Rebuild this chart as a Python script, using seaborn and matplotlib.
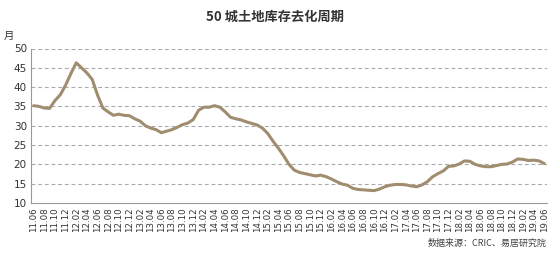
import numpy as np
import pandas as pd
import matplotlib
matplotlib.use("Agg")
import matplotlib.pyplot as plt
import seaborn as sns

# ---- data ----
years = ["11", "12", "13", "14", "15", "16", "17", "18", "19"]
months = [f"{y}.{m:02d}" for y in years for m in range(1, 13)]
months = months[months.index("11.06"):months.index("19.06") + 1]

cycle = [35.2, 35.0, 34.6, 34.5, 36.5, 38.0, 40.5, 43.5, 46.3, 45.0,
         43.7, 42.0, 38.0, 34.6, 33.6, 32.7, 33.0, 32.7, 32.6, 31.8,
         31.2, 30.0, 29.4, 29.0, 28.2, 28.6, 29.0, 29.6, 30.3, 30.7,
         31.6, 34.0, 34.8, 34.8, 35.2, 34.8, 33.6, 32.2, 31.8, 31.5,
         31.0, 30.6, 30.2, 29.4, 28.0, 26.0, 24.2, 22.2, 20.0, 18.5,
         17.9, 17.6, 17.3, 17.0, 17.2, 16.8, 16.2, 15.5, 14.9, 14.6,
         13.8, 13.5, 13.4, 13.3, 13.2, 13.6, 14.2, 14.6, 14.8, 14.8,
         14.7, 14.4, 14.2, 14.7, 15.5, 16.8, 17.6, 18.3, 19.5, 19.6,
         20.1, 20.9, 20.8, 20.0, 19.6, 19.4, 19.4, 19.7, 20.0, 20.1,
         20.6, 21.4, 21.3, 21.0, 21.1, 20.9, 20.2]

yticks = [10, 15, 20, 25, 30, 35, 40, 45, 50]
title = "50 城土地库存去化周期"
unit = "月"
source = "数据来源：CRIC、易居研究院"

df = pd.DataFrame({"idx": np.arange(len(months)), "month": months, "cycle": cycle})

sns.set_theme(style="white")
plt.rcParams["font.family"] = ["Noto Sans CJK SC", "DejaVu Sans"]

fig = plt.figure(figsize=(5.56, 2.56), dpi=100)
ax = fig.add_axes([31 / 556, 1 - 203 / 256, (547 - 31) / 556, (203 - 48.5) / 256])

sns.lineplot(data=df, x="idx", y="cycle", ax=ax, color="#a08d70", linewidth=2.2,
             solid_joinstyle="round", solid_capstyle="round")

ax.set_xlim(-0.5, len(months) - 0.5)
ax.set_ylim(10, 50)
ax.set_yticks(yticks)
ax.set_yticklabels([str(v) for v in yticks], fontsize=7.5, color="#333333",
                   family=["DejaVu Sans"])
ax.set_xticks(np.arange(0, len(months), 2))
ax.set_xticklabels(months[::2], rotation=90, fontsize=6.2, color="#333333",
                   family=["DejaVu Sans"])
ax.set_xticks(np.arange(-0.5, len(months), 1), minor=True)
ax.tick_params(axis="x", which="major", length=0, pad=3)
ax.tick_params(axis="x", which="minor", length=2.5, width=0.6, color="#999999",
               direction="out")
ax.tick_params(axis="y", length=0, pad=3)

for v in yticks[1:]:
    ax.axhline(v, color="#aaaaaa", linewidth=0.8, linestyle=(0, (3.5, 2.5)), zorder=0)

for s in ["top", "right"]:
    ax.spines[s].set_visible(False)
for s in ["left", "bottom"]:
    ax.spines[s].set_color("#999999")
    ax.spines[s].set_linewidth(0.8)

ax.set_xlabel("")
ax.set_ylabel("")

fig.text(0.495, 1 - 17 / 256, title, ha="center", va="center", fontsize=9.5,
         fontweight="bold", color="#333333")
fig.text(8.5 / 556, 1 - 36 / 256, unit, ha="center", va="center", fontsize=7.5,
         color="#333333")
fig.text(547 / 556, 1 - 243 / 256, source, ha="right", va="center", fontsize=6.5,
         color="#444444")

fig.savefig("out.png", dpi=100, facecolor="white")
